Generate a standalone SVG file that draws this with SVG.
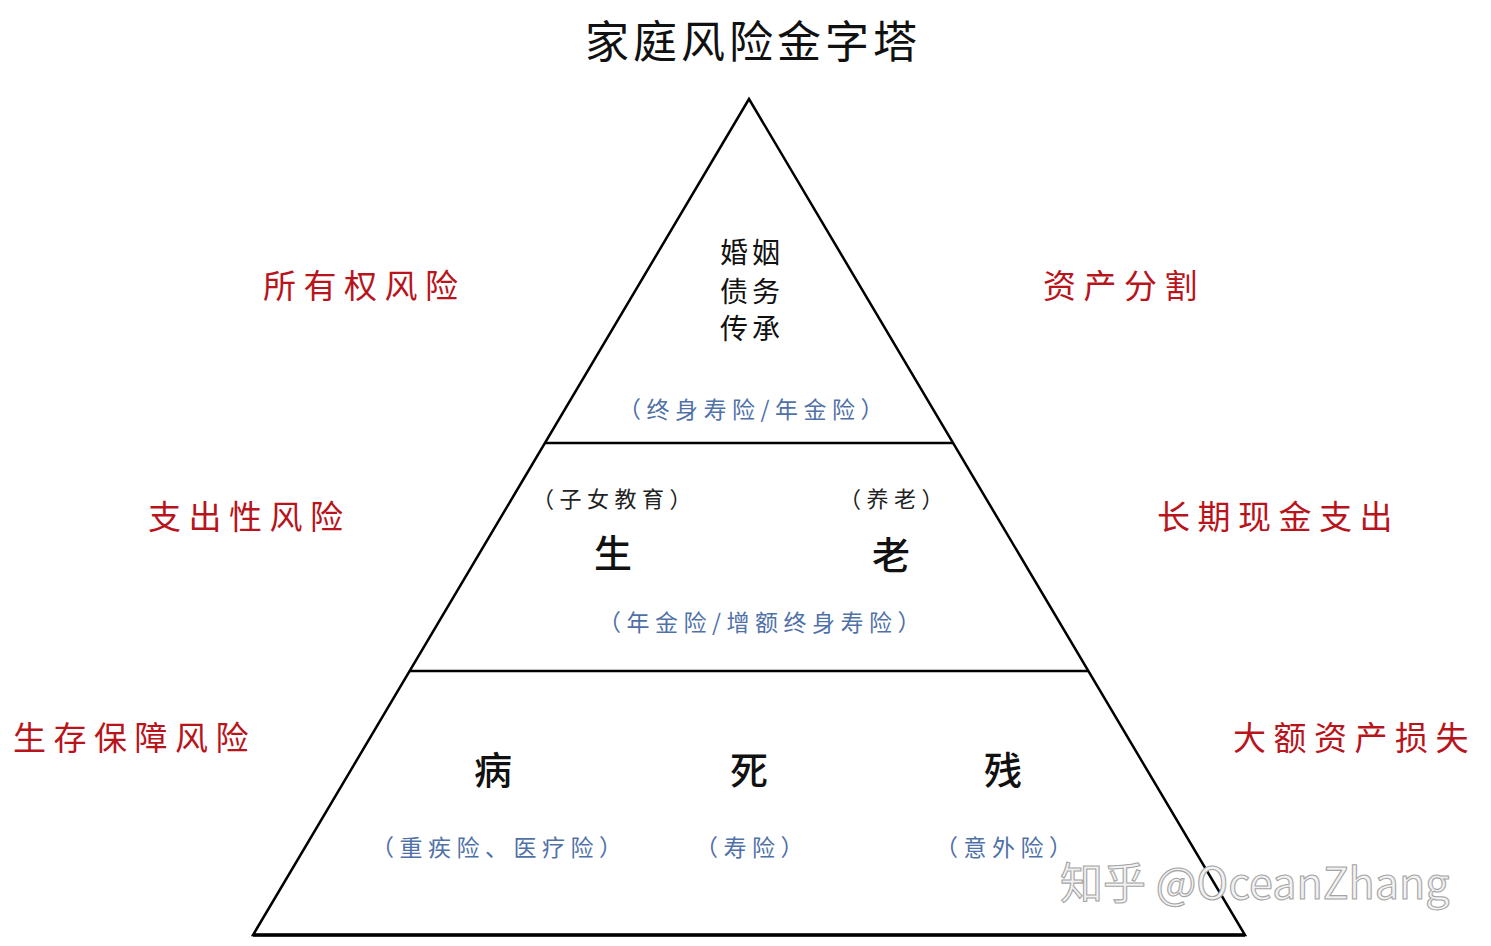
<svg xmlns="http://www.w3.org/2000/svg" width="1491" height="946" viewBox="0 0 1491 946">
<defs>
<style>
text{font-family:"Noto Sans CJK SC","Noto Sans",sans-serif;}
.title{font-size:44px;fill:#111;letter-spacing:4px;}
.risk{font-size:33px;fill:#B8141C;letter-spacing:7.5px;}
.big{font-size:38px;fill:#111;font-weight:500;}
.mid{font-size:28px;fill:#111;letter-spacing:4px;}
.small{font-size:22px;fill:#222;letter-spacing:5.5px;}
.ins{font-size:23px;fill:#4F71A8;letter-spacing:5.5px;}
.line{stroke:#000;stroke-width:2.5;fill:none;}
.wm{font-family:"Noto Sans CJK SC","Noto Sans",sans-serif;font-size:43px;fill:#f2f2f2;stroke:#a5a5a5;stroke-width:1.1;}
</style>
</defs>
<rect width="1491" height="946" fill="#fff"/>
<g id="title"><text class="title" x="585" y="58">家庭风险金字塔</text></g>
<g id="connectors">
<polygon class="line" points="749,99 253,935 1245,935"/>
<line class="line" x1="545" y1="443" x2="953" y2="443"/>
<line class="line" x1="410" y1="671" x2="1088" y2="671"/>
<line x1="253" y1="935" x2="1245" y2="935" stroke="#000" stroke-width="3.5"/>
</g>
<g id="tier-top">
<text class="mid" x="720" y="263">婚姻</text>
<text class="mid" x="720" y="302">债务</text>
<text class="mid" x="720" y="339">传承</text>
<text class="ins" x="618" y="418">（终身寿险/年金险）</text>
</g>
<g id="tier-middle">
<text class="small" x="532" y="507">（子女教育）</text>
<text class="small" x="839" y="507">（养老）</text>
<text class="big" x="594" y="567">生</text>
<text class="big" x="872" y="569">老</text>
<text class="ins" x="598" y="631">（年金险/增额终身寿险）</text>
</g>
<g id="tier-bottom">
<text class="big" x="474" y="784">病</text>
<text class="big" x="730" y="784">死</text>
<text class="big" x="984" y="784">残</text>
<text class="ins" x="371" y="856">（重疾险、医疗险）</text>
<text class="ins" x="695" y="856">（寿险）</text>
<text class="ins" x="935" y="856">（意外险）</text>
</g>
<g id="labels-left">
<text class="risk" x="263" y="298">所有权风险</text>
<text class="risk" x="148" y="529">支出性风险</text>
<text class="risk" x="13" y="750">生存保障风险</text>
</g>
<g id="labels-right">
<text class="risk" x="1043" y="298">资产分割</text>
<text class="risk" x="1157" y="529">长期现金支出</text>
<text class="risk" x="1233" y="750">大额资产损失</text>
</g>
<g id="watermark"><text class="wm" x="1060" y="899">知乎 @OceanZhang</text></g>
</svg>
